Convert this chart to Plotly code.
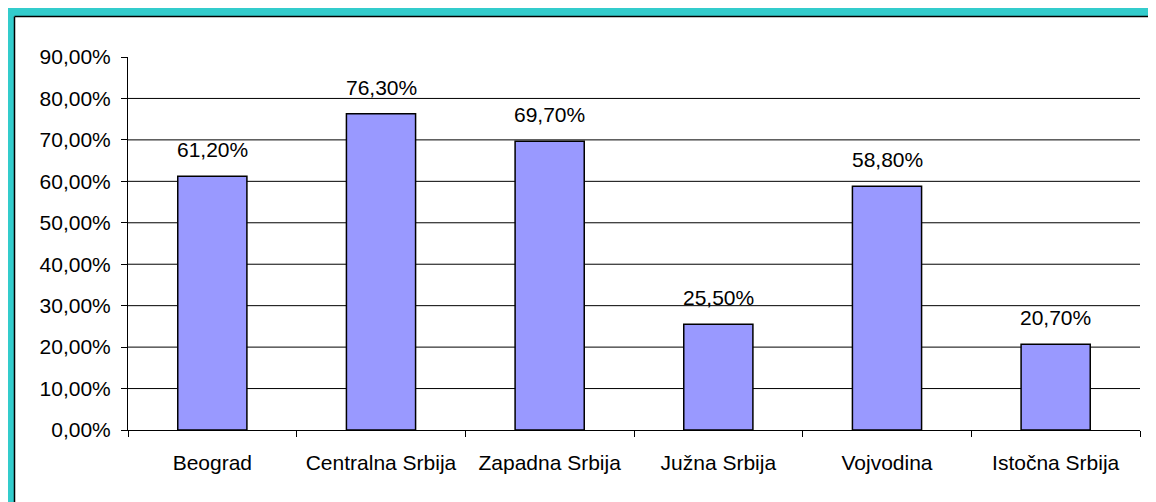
import plotly.graph_objects as go

categories = ["Beograd", "Centralna Srbija", "Zapadna Srbija", "Južna Srbija", "Vojvodina", "Istočna Srbija"]
values = [61.2, 76.3, 69.7, 25.5, 58.8, 20.7]
tick_vals = [0, 10, 20, 30, 40, 50, 60, 70, 80, 90]
tick_text = ["0,00%", "10,00%", "20,00%", "30,00%", "40,00%", "50,00%", "60,00%", "70,00%", "80,00%", "90,00%"]
value_labels = [f"{v:.2f}".replace(".", ",") + "%" for v in values]

W, H = 1156, 502
OFF = 8  # page body margin
ML, MR, MT, MB = 120, 24, 49, 80
PW, PH = W - ML - MR, H - MT - MB

def px_x(p):
    p = p - OFF
    return (p - ML) / PW

def px_y(p):
    p = p - OFF
    return 1 - (p - MT) / PH

FONT = "Liberation Sans, Arial, sans-serif"
FS = 21

fig = go.Figure()
fig.add_trace(go.Bar(
    x=categories, y=values, width=0.41,
    marker=dict(color="#9999FF", line=dict(color="black", width=1.5)),
    hoverinfo="skip",
))

for c, v, t in zip(categories, values, value_labels):
    fig.add_annotation(x=c, y=v, text=t, showarrow=False, yanchor="bottom", yshift=13,
                       font=dict(family=FONT, size=FS, color="black"))

shapes = []
for tv in tick_vals[1:-1]:
    shapes.append(dict(type="line", xref="paper", yref="y", x0=0, x1=1, y0=tv, y1=tv,
                       line=dict(color="black", width=1), layer="below"))
shapes.append(dict(type="rect", xref="paper", yref="paper", x0=px_x(5), x1=px_x(14), y0=px_y(H + 20), y1=px_y(7),
                   fillcolor="#33CCCC", line=dict(width=0), layer="below"))
shapes.append(dict(type="rect", xref="paper", yref="paper", x0=px_x(5), x1=px_x(W + 20), y0=px_y(16), y1=px_y(7),
                   fillcolor="#33CCCC", line=dict(width=0), layer="below"))
shapes.append(dict(type="line", xref="paper", yref="paper", x0=px_x(14.5), x1=px_x(W + 20), y0=px_y(16.5), y1=px_y(16.5),
                   line=dict(color="black", width=1.5)))
shapes.append(dict(type="line", xref="paper", yref="paper", x0=px_x(14.5), x1=px_x(14.5), y0=px_y(H + 20), y1=px_y(16.5),
                   line=dict(color="black", width=1.5)))

fig.update_layout(
    width=W, height=H,
    margin=dict(l=ML, r=MR, t=MT, b=MB),
    paper_bgcolor="white", plot_bgcolor="white",
    showlegend=False,
    shapes=shapes,
    font=dict(family=FONT, size=FS, color="black"),
)
fig.update_xaxes(
    type="category", showgrid=False, showline=True, linecolor="black", linewidth=1,
    ticks="outside", tickson="boundaries", ticklen=6, tickcolor="black", ticklabelstandoff=14,
    tickfont=dict(family=FONT, size=FS), fixedrange=True,
)
fig.update_yaxes(
    range=[0, 90], tickvals=tick_vals, ticktext=tick_text, showgrid=False, zeroline=False,
    showline=True, linecolor="black", linewidth=1,
    ticks="outside", ticklen=6, tickcolor="black", ticklabelstandoff=6,
    tickfont=dict(family=FONT, size=FS), fixedrange=True,
)

fig.write_html("out.html")
